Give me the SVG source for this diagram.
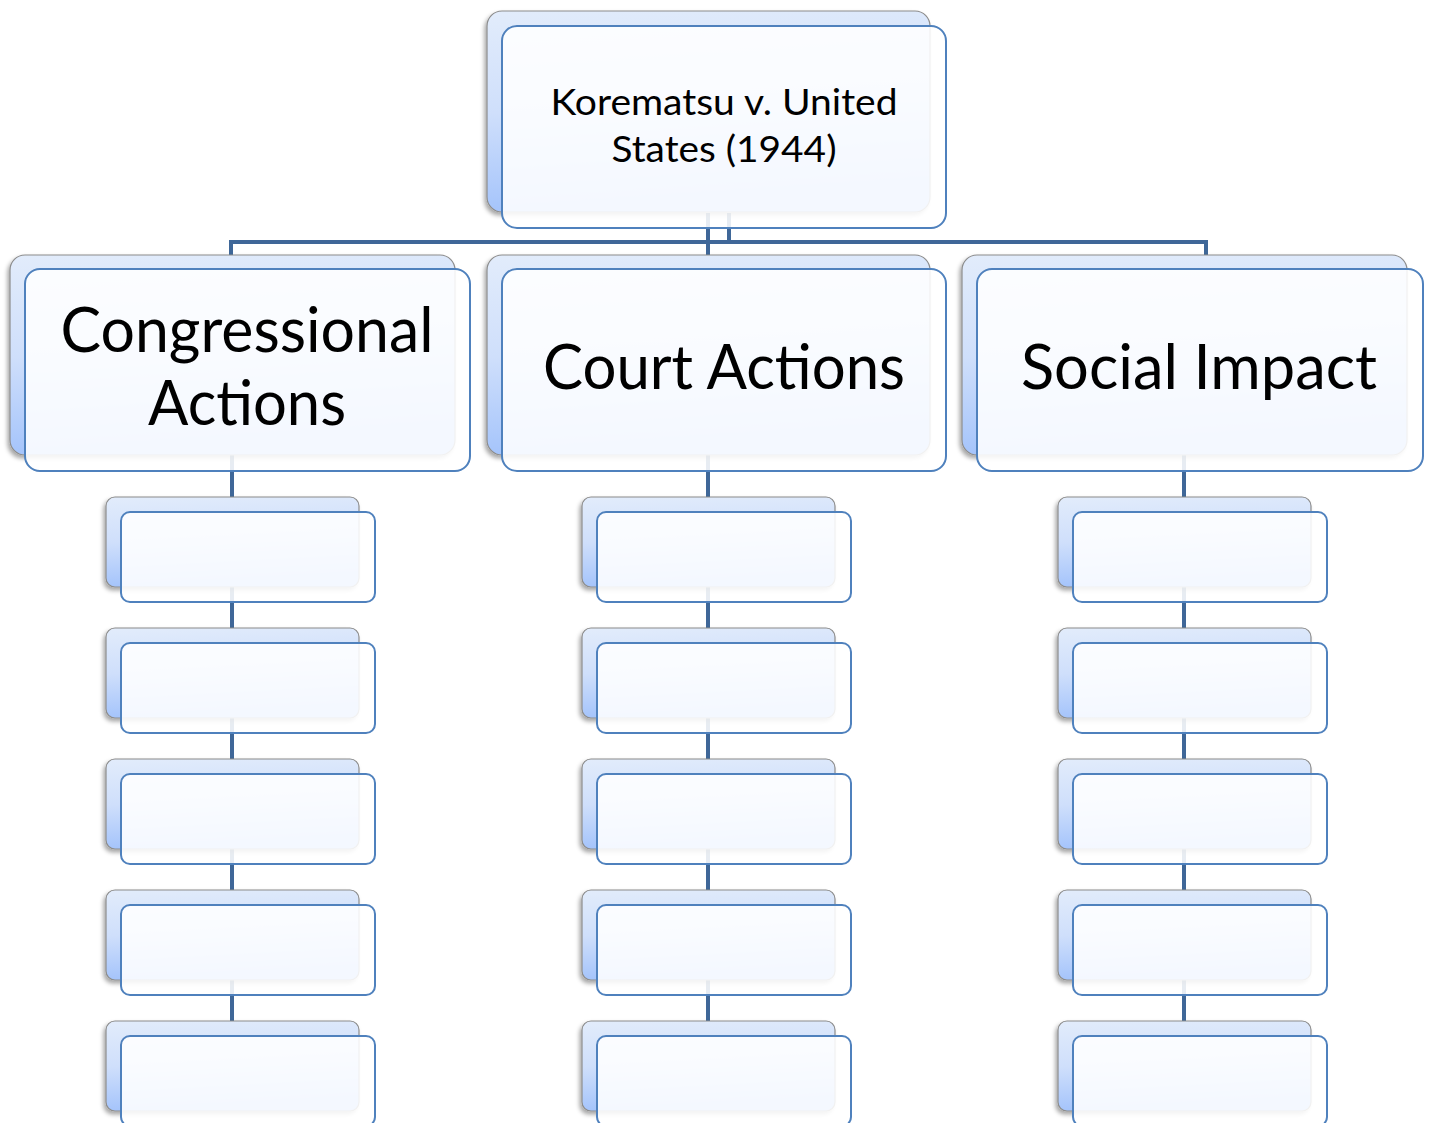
<svg xmlns="http://www.w3.org/2000/svg" width="1430" height="1123" viewBox="0 0 1430 1123">
<style>
.back{fill:url(#g);stroke:#8c8c8c;stroke-width:1.2;filter:url(#sh)}
.front{fill:#ffffff;fill-opacity:0.88;stroke:#4f81bd;stroke-width:2}
.conn{stroke:#3f6798;stroke-width:4;fill:none}
.t{font-family:Lato,"Open Sans","Liberation Sans",sans-serif;fill:#000;text-anchor:middle}
</style>
<defs>
<linearGradient id="g" x1="0" y1="0" x2="0.15" y2="1">
<stop offset="0" stop-color="#e2ecfb"/>
<stop offset="0.5" stop-color="#cfdffb"/>
<stop offset="1" stop-color="#a3c3fb"/>
</linearGradient>
<filter id="sh" x="-10%" y="-10%" width="120%" height="130%">
<feDropShadow dx="-2" dy="3" stdDeviation="2" flood-color="#000" flood-opacity="0.35"/>
</filter>
</defs>
<g id="connectors">
<path class="conn" d="M729 213V242M708 213V255M231 255V242H1206V255"/>
<path class="conn" d="M232 455V1030M708 455V1030M1184 455V1030"/>
</g>
<g id="root">
<rect class="back" x="487" y="11" width="443" height="201" rx="15"/>
<rect class="front" x="502" y="26" width="444" height="202" rx="15"/>
<text class="t" font-size="37"><tspan x="724" y="115" textLength="347" lengthAdjust="spacingAndGlyphs">Korematsu v. United</tspan><tspan x="724" y="162" textLength="225" lengthAdjust="spacingAndGlyphs">States (1944)</tspan></text>
</g>
<g id="congress">
<rect class="back" x="10" y="255" width="445" height="200" rx="15"/>
<rect class="front" x="25" y="269" width="445" height="202" rx="15"/>
<text class="t" font-size="61"><tspan x="247" y="352" textLength="373" lengthAdjust="spacingAndGlyphs">Congressional</tspan><tspan x="247" y="425" textLength="198" lengthAdjust="spacingAndGlyphs">Actions</tspan></text>
</g>
<g id="court">
<rect class="back" x="487" y="255" width="443" height="200" rx="15"/>
<rect class="front" x="502" y="269" width="444" height="202" rx="15"/>
<text class="t" font-size="61"><tspan x="724" y="389" textLength="362" lengthAdjust="spacingAndGlyphs">Court Actions</tspan></text>
</g>
<g id="social">
<rect class="back" x="962" y="255" width="445" height="200" rx="15"/>
<rect class="front" x="977" y="269" width="446" height="202" rx="15"/>
<text class="t" font-size="61"><tspan x="1199" y="389" textLength="356" lengthAdjust="spacingAndGlyphs">Social Impact</tspan></text>
</g>
<g id="c1r1"><rect class="back" x="106" y="497" width="253" height="90" rx="9"/><rect class="front" x="121" y="512" width="254" height="90" rx="9"/></g>
<g id="c1r2"><rect class="back" x="106" y="628" width="253" height="90" rx="9"/><rect class="front" x="121" y="643" width="254" height="90" rx="9"/></g>
<g id="c1r3"><rect class="back" x="106" y="759" width="253" height="90" rx="9"/><rect class="front" x="121" y="774" width="254" height="90" rx="9"/></g>
<g id="c1r4"><rect class="back" x="106" y="890" width="253" height="90" rx="9"/><rect class="front" x="121" y="905" width="254" height="90" rx="9"/></g>
<g id="c1r5"><rect class="back" x="106" y="1021" width="253" height="90" rx="9"/><rect class="front" x="121" y="1036" width="254" height="90" rx="9"/></g>
<g id="c2r1"><rect class="back" x="582" y="497" width="253" height="90" rx="9"/><rect class="front" x="597" y="512" width="254" height="90" rx="9"/></g>
<g id="c2r2"><rect class="back" x="582" y="628" width="253" height="90" rx="9"/><rect class="front" x="597" y="643" width="254" height="90" rx="9"/></g>
<g id="c2r3"><rect class="back" x="582" y="759" width="253" height="90" rx="9"/><rect class="front" x="597" y="774" width="254" height="90" rx="9"/></g>
<g id="c2r4"><rect class="back" x="582" y="890" width="253" height="90" rx="9"/><rect class="front" x="597" y="905" width="254" height="90" rx="9"/></g>
<g id="c2r5"><rect class="back" x="582" y="1021" width="253" height="90" rx="9"/><rect class="front" x="597" y="1036" width="254" height="90" rx="9"/></g>
<g id="c3r1"><rect class="back" x="1058" y="497" width="253" height="90" rx="9"/><rect class="front" x="1073" y="512" width="254" height="90" rx="9"/></g>
<g id="c3r2"><rect class="back" x="1058" y="628" width="253" height="90" rx="9"/><rect class="front" x="1073" y="643" width="254" height="90" rx="9"/></g>
<g id="c3r3"><rect class="back" x="1058" y="759" width="253" height="90" rx="9"/><rect class="front" x="1073" y="774" width="254" height="90" rx="9"/></g>
<g id="c3r4"><rect class="back" x="1058" y="890" width="253" height="90" rx="9"/><rect class="front" x="1073" y="905" width="254" height="90" rx="9"/></g>
<g id="c3r5"><rect class="back" x="1058" y="1021" width="253" height="90" rx="9"/><rect class="front" x="1073" y="1036" width="254" height="90" rx="9"/></g>
</svg>
